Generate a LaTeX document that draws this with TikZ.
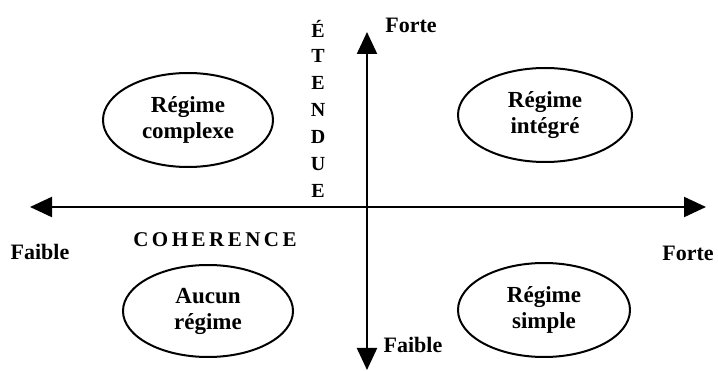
\documentclass[tikz,border=0pt]{standalone}
\usepackage{fontspec}
\setmainfont{Liberation Serif}
\usetikzlibrary{arrows.meta,shapes.geometric}
\tikzset{
  axis/.style={line width=2.2pt, -{Triangle[width=20pt,length=22pt]}},
  regline/.style={line width=2pt},
  lbl/.style={font=\fontsize{22}{24}\selectfont\bfseries, inner sep=0pt},
  regtxt/.style={font=\fontsize{23}{26}\selectfont\bfseries, align=center, inner sep=0pt},
}
\begin{document}
\begin{tikzpicture}[x=1pt,y=-1pt]
\useasboundingbox (0,0) rectangle (718,371);
% axes
\coordinate (o) at (367,207);
\coordinate (top) at (367,32);
\coordinate (bot) at (367,370);
\coordinate (left) at (30,207);
\coordinate (right) at (706,207);
\draw[axis] (o) -- (top);
\draw[axis] (o) -- (bot);
\draw[axis] (o) -- (left);
\draw[axis] (o) -- (right);
% ellipses
\draw[regline] (188,120) ellipse [x radius=85, y radius=47];
\draw[regline] (545,115) ellipse [x radius=87, y radius=47];
\draw[regline] (208,311) ellipse [x radius=85, y radius=46];
\draw[regline] (544,310) ellipse [x radius=86, y radius=47];
\node[regtxt] (rc) at (188,120) {Régime\\complexe};
\node[regtxt] (ri) at (545,115) {Régime\\intégré};
\node[regtxt] (ar) at (208,311) {Aucun\\régime};
\node[regtxt] (rs) at (544,310) {Régime\\simple};
% labels
\node[lbl] (ft) at (411,25) {Forte};
\node[lbl] (fb) at (413,345) {Faible};
\node[lbl] (fl) at (40,252) {Faible};
\node[lbl] (fr) at (688,253) {Forte};
\node[lbl, font=\fontsize{21}{23}\selectfont\bfseries] (coh) at (215,240) {C\hspace{3.5pt}O\hspace{3.5pt}H\hspace{3.5pt}E\hspace{3.5pt}R\hspace{3.5pt}E\hspace{3.5pt}N\hspace{3.5pt}C\hspace{3.5pt}E};
\foreach \ch [count=\i from 0] in {É,T,E,N,D,U,E}
  \node[lbl, font=\fontsize{20}{22}\selectfont\bfseries] (et\i) at (318,29+27*\i) {\ch};
\end{tikzpicture}
\end{document}
